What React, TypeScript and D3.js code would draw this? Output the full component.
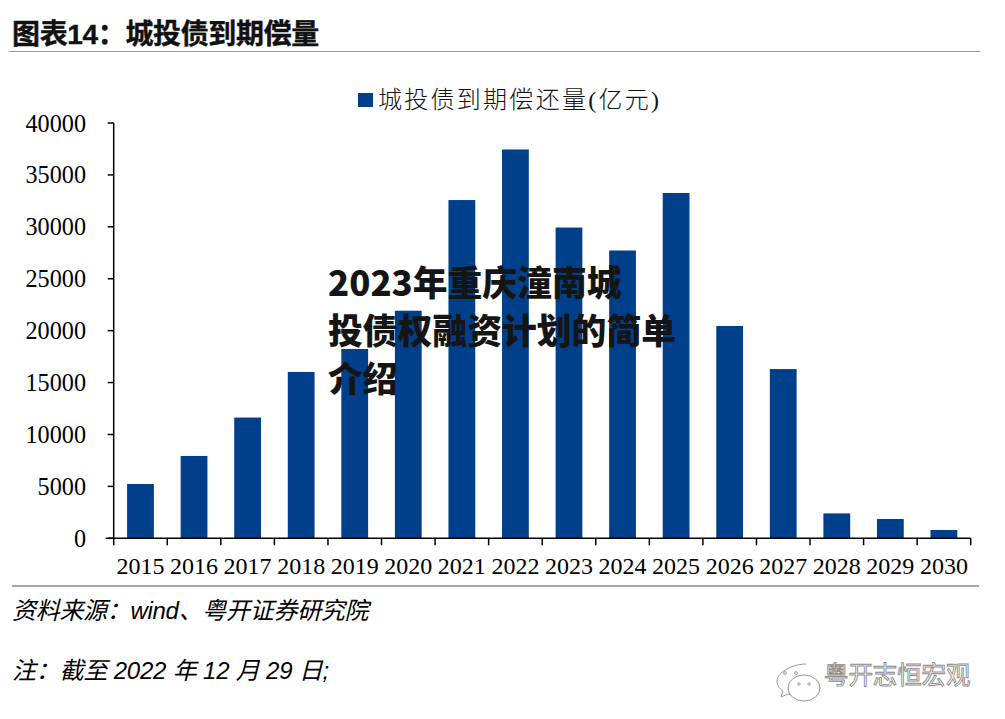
import React from "react";
import * as d3 from "d3";

const years = ["2015","2016","2017","2018","2019","2020","2021","2022","2023","2024","2025","2026","2027","2028","2029","2030"];
const maturity = [5230,7930,11630,16020,18230,21920,32580,37450,29930,27720,33260,20450,16300,2400,1860,800];
const yTicks = [0,5000,10000,15000,20000,25000,30000,35000,40000];
const overlayLines = ["2023年重庆潼南城","投债权融资计划的简单","介绍"];
const watermarkText = "粤开志恒宏观";

const serif = "'Liberation Serif','Noto Sans CJK SC',serif";
const sans = "'Liberation Sans','Noto Sans CJK SC',sans-serif";
const cjk = "'Noto Sans CJK SC',sans-serif";
const BLUE = "#003f8a";

export default function App() {
  const x = d3.scaleBand<string>().domain(years).range([113.7, 970.7]).paddingInner(0.5).paddingOuter(0.25);
  const step = x.step();
  const y = d3.scaleLinear().domain([0, 40000]).range([538.3, 123]);
  const x0 = x.range()[0];
  const ticksX = d3.range(years.length + 1).map((i) => x0 + i * step);
  return (
    <svg width={1005} height={719} style={{ position: "absolute", left: 0, top: 0, background: "#fff" }}>
      <text x={12} y={44} fontFamily={sans} fontWeight={700} fontSize={28} letterSpacing={-0.35} fill="#111" stroke="#111" strokeWidth={0.4}>图表14：城投债到期偿量</text>
      <line x1={9} x2={980} y1={51.5} y2={51.5} stroke="#999" strokeWidth={1} />

      <rect x={358} y={93} width={15} height={14} fill={BLUE} />
      <text x={378} y={108} fontFamily={serif} fontSize={24} fontWeight={300} fill="#111" textLength={281} lengthAdjust="spacing">城投债到期偿还量(亿元)</text>

      {years.map((yr, i) => (
        <rect key={yr} x={x(yr)} y={y(maturity[i])} width={x.bandwidth()} height={y(0) - y(maturity[i])} fill={BLUE} />
      ))}

      <line x1={x0} x2={x0} y1={y(40000)} y2={y(0)} stroke="#000" strokeWidth={1.5} />
      <line x1={x0 - 8} x2={ticksX[ticksX.length - 1]} y1={y(0)} y2={y(0)} stroke="#000" strokeWidth={1.5} />
      {yTicks.map((t) => (
        <g key={t}>
          <line x1={x0 - 6} x2={x0} y1={y(t)} y2={y(t)} stroke="#000" strokeWidth={1.5} />
          <text x={86} y={y(t) + 8.5} textAnchor="end" fontFamily={serif} fontSize={25} fill="#000" textLength={String(t).length * 12.1} lengthAdjust="spacingAndGlyphs">{t}</text>
        </g>
      ))}
      {ticksX.map((tx) => (
        <line key={tx} x1={tx} x2={tx} y1={y(0)} y2={y(0) + 7} stroke="#000" strokeWidth={1.5} />
      ))}
      {years.map((yr) => (
        <text key={yr} x={(x(yr) as number) + x.bandwidth() / 2} y={574} textAnchor="middle" fontFamily={serif} fontSize={24} fill="#000">{yr}</text>
      ))}

      <line x1={12} x2={979} y1={586} y2={586} stroke="#a6a6a6" strokeWidth={2} />
      <text x={12} y={619} fontFamily={sans} fontStyle="italic" fontSize={24} letterSpacing={-0.3} fill="#000">资料来源：wind、粤开证券研究院</text>
      <text x={12} y={679} fontFamily={sans} fontStyle="italic" fontSize={24} letterSpacing={-0.2} fill="#000">注：截至 2022 年 12 月 29 日;</text>

      <g fill="#fff" stroke="#9a9a9a" strokeWidth={1}>
        <path d="M 806 664 C 793 664 777 672 777 681 C 777 686 780 689 783 691 L 781 697 L 788 694 C 791 695 793 695 796 695" />
        <ellipse cx={804} cy={688} rx={16} ry={13} />
        <circle cx={785} cy={673} r={1.4} />
        <circle cx={796} cy={673} r={1.4} />
        <circle cx={799} cy={684} r={1.2} />
        <circle cx={809} cy={684} r={1.2} />
      </g>
      <text x={824} y={684} fontFamily={cjk} fontSize={24.5} fill="#fff" stroke="#8c8c8c" strokeWidth={0.9} letterSpacing={-0.1}>{watermarkText}</text>

      {overlayLines.map((l, i) => (
        <text key={l} x={328} y={[296, 344, 392][i]} fontFamily={cjk} fontWeight={900} fontSize={34.8} fill="#151515">{l}</text>
      ))}
    </svg>
  );
}
